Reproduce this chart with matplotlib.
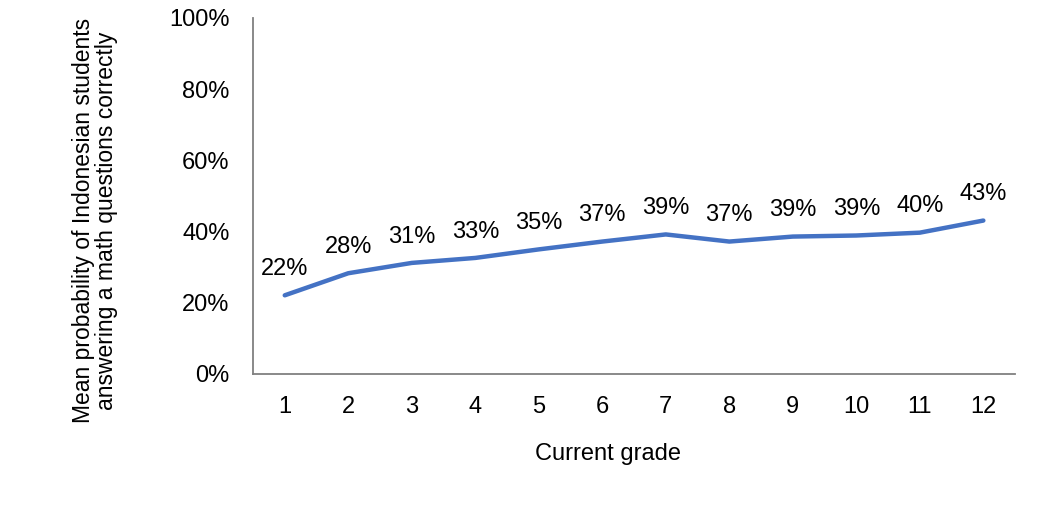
import matplotlib
matplotlib.use("Agg")
import matplotlib.pyplot as plt
from matplotlib.ticker import PercentFormatter

plt.rcParams['font.family'] = ['Liberation Sans', 'DejaVu Sans']

grades = [1, 2, 3, 4, 5, 6, 7, 8, 9, 10, 11, 12]
probability = [0.221, 0.283, 0.312, 0.326, 0.350, 0.372, 0.392, 0.372, 0.386, 0.389, 0.397, 0.431]
labels = ["22%", "28%", "31%", "33%", "35%", "37%", "39%", "37%", "39%", "39%", "40%", "43%"]

FS = 17

fig = plt.figure(figsize=(10.39, 5.08), dpi=100)
ax = fig.add_axes([0.2435, 0.2638, 0.7335, 0.7008])
ax.plot(grades, probability, color="#4472C4", linewidth=3.2, solid_capstyle="round")
for g, p, l in zip(grades, probability, labels):
    ax.annotate(l, (g, p), xytext=(0, 11), textcoords="offset points",
                ha="center", va="bottom", fontsize=FS, color="black")

ax.set_xlim(0.5, 12.5)
ax.set_ylim(0, 1.0)
ax.set_xticks(grades)
ax.set_xticklabels([str(g) for g in grades])
ax.set_yticks([0, 0.2, 0.4, 0.6, 0.8, 1.0])
ax.yaxis.set_major_formatter(PercentFormatter(1.0, decimals=0))
ax.tick_params(axis="both", length=0, labelsize=FS, colors="black")
ax.tick_params(axis="x", pad=16)
ax.tick_params(axis="y", pad=17)
for s in ["top", "right"]:
    ax.spines[s].set_visible(False)
for s in ["left", "bottom"]:
    ax.spines[s].set_color("#808080")
    ax.spines[s].set_linewidth(1.3)

ax.set_xlabel("Current grade", fontsize=FS)
ax.xaxis.set_label_coords(0.466, -0.193)
ax.set_ylabel("Mean probability of Indonesian students\nanswering a math questions correctly",
              fontsize=16.5, linespacing=1.0)
ax.yaxis.set_label_coords(-0.177, 0.43)

fig.savefig("out.png", dpi=100)
